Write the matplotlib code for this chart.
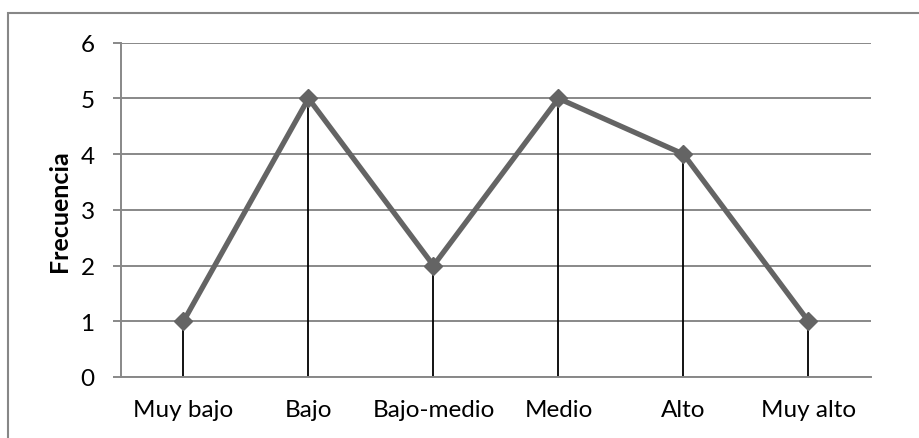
import matplotlib
matplotlib.use("Agg")
import matplotlib.pyplot as plt
from matplotlib.patches import Rectangle

categories = ["Muy bajo", "Bajo", "Bajo-medio", "Medio", "Alto", "Muy alto"]
values = [1, 5, 2, 5, 4, 1]
yticks = [0, 1, 2, 3, 4, 5, 6]

plt.rcParams['font.family'] = ['Lato', 'DejaVu Sans']

fig = plt.figure(figsize=(9.2, 4.39), dpi=100)
ax = fig.add_axes([121/920, 61/439, 750/920, (378-43.7)/439])

# outer border (only top/left visible)
fig.patches.append(Rectangle((8/920, -0.5), 2.0, 1 - 14/439 + 0.5, transform=fig.transFigure,
                             fill=False, edgecolor='#878787', linewidth=1.5))

x = list(range(len(categories)))
ax.vlines(x, 0, values, colors='black', linewidth=1.3, zorder=2)
ax.plot(x, values, color='#646464', linewidth=3.8, marker='D', markersize=9.5,
        markeredgecolor='#646464', markerfacecolor='#646464', zorder=3)

ax.set_xlim(-0.5, len(categories) - 0.5)
ax.set_ylim(0, 6)
ax.set_yticks(yticks)
ax.set_xticks(x)
ax.set_xticklabels(categories, fontsize=17.5)
ax.set_yticklabels([str(v) for v in yticks], fontsize=17.5)
ax.yaxis.grid(True, color='#888888', linewidth=1.4)
ax.set_axisbelow(True)
for s in ['top', 'right']:
    ax.spines[s].set_visible(False)
ax.spines['left'].set_color('#888888')
ax.spines['left'].set_linewidth(1.4)
ax.spines['bottom'].set_color('#888888')
ax.spines['bottom'].set_linewidth(1.4)
ax.tick_params(axis='y', length=6, width=1.4, color='#888888', pad=13)
ax.tick_params(axis='x', length=0, pad=16)
ax.set_ylabel("Frecuencia", fontsize=18, fontweight='bold', labelpad=7)

fig.savefig("out.png", dpi=100)
